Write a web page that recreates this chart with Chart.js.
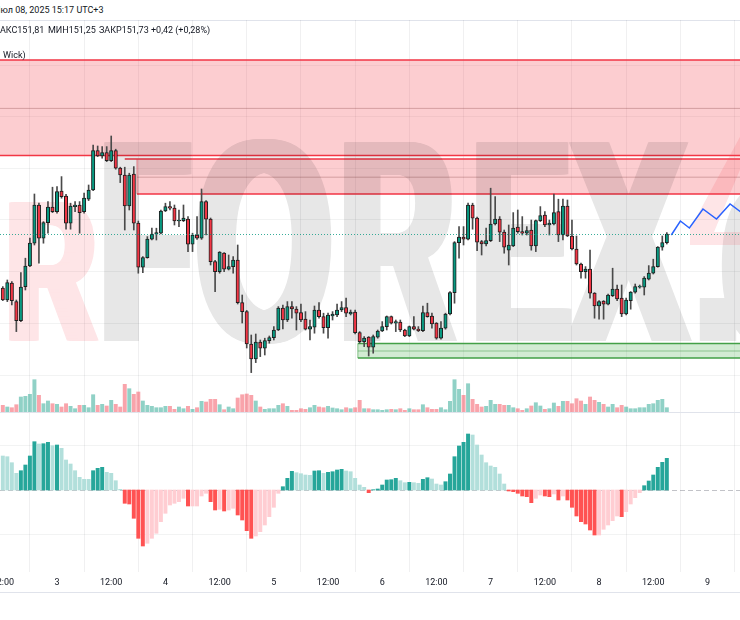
<!DOCTYPE html>
<html>
<head>
<meta charset="utf-8">
<script src="https://cdn.jsdelivr.net/npm/chart.js@4.4.1/dist/chart.umd.min.js"></script>
<style>
html, body { margin: 0; padding: 0; background: #fff; }
#wrap { position: relative; width: 740px; height: 620px; overflow: hidden; background: #fff;
        font-family: Roboto, "Noto Sans", sans-serif; color: #131722; }
canvas { position: absolute; left: 0; }
.txt { position: absolute; font-size: 9px; line-height: 11px; white-space: nowrap; }
.rule { position: absolute; left: 0; width: 740px; height: 1px; background: #e0e3eb; }
</style>
</head>
<body>
<div id="wrap">
  <div class="txt" style="top:5px;left:-6px">Июл 08, 2025 15:17 UTC+3</div>
  <div class="rule" style="top:20px"></div>
  <canvas id="priceChart" width="740" height="393" style="top:20px"></canvas>
  <div class="txt" style="top:25px;left:-8px">МАКС151,81</div>
  <div class="txt" style="top:25px;left:48px">МИН151,25</div>
  <div class="txt" style="top:25px;left:99px">ЗАКР151,73</div>
  <div class="txt" style="top:25px;left:151px">+0,42 (+0,28%)</div>
  <div class="txt" style="top:50px;left:3px">Wick)</div>
  <div class="rule" style="top:412px"></div>
  <canvas id="macdChart" width="740" height="207" style="top:413px"></canvas>
  <div class="rule" style="top:592px"></div>
</div>
<script>
// hourly candles, index 0 = day 2 12:00
const opens = [
151.459,151.400,151.484,151.392,151.297,151.467,151.570,151.684,151.875,151.709,
151.787,151.864,151.842,151.945,151.920,151.784,151.867,151.875,151.842,151.904,
151.950,152.147,152.120,152.137,152.097,152.147,152.059,152.025,151.870,152.030,
151.784,151.564,151.612,151.704,151.729,151.734,151.845,151.867,151.859,151.795,
151.797,151.804,151.679,151.725,151.709,151.892,151.804,151.592,151.542,151.634,
151.554,151.567,151.600,151.387,151.342,151.180,151.105,151.189,151.159,151.197,
151.212,151.250,151.359,151.300,151.367,151.354,151.337,151.304,151.254,151.264,
151.350,151.317,151.262,151.320,151.325,151.350,151.362,151.330,151.339,151.237,
151.192,151.214,151.164,151.214,151.245,151.267,151.317,151.284,151.289,151.250,
151.220,151.267,151.255,151.247,151.337,151.320,151.284,151.209,151.259,151.330,
151.437,151.687,151.714,151.704,151.875,151.809,151.692,151.680,151.697,151.780,
151.805,151.739,151.649,151.670,151.764,151.742,151.734,151.750,151.670,151.797,
151.825,151.775,151.780,151.842,151.725,151.870,151.720,151.655,151.580,151.542,
151.555,151.434,151.370,151.395,151.379,151.422,151.455,151.409,151.330,151.397,
151.439,151.464,151.464,151.504,151.534,151.567,151.664,151.687];
const highs = [
151.467,151.500,151.492,151.400,151.537,151.609,151.709,151.930,151.884,151.792,
151.892,151.964,151.967,152.017,151.928,151.884,151.892,151.892,151.934,151.975,
152.175,152.170,152.167,152.167,152.220,152.154,152.064,152.064,152.034,152.067,
151.795,151.617,151.717,151.759,151.759,151.850,151.884,151.892,151.875,151.850,
151.875,151.817,151.734,151.817,151.955,151.897,151.810,151.598,151.642,151.637,
151.625,151.617,151.675,151.425,151.348,151.225,151.230,151.200,151.209,151.220,
151.267,151.367,151.375,151.392,151.392,151.367,151.380,151.342,151.300,151.370,
151.387,151.334,151.334,151.342,151.380,151.392,151.409,151.350,151.350,151.242,
151.217,151.217,151.225,151.250,151.292,151.320,151.320,151.300,151.300,151.254,
151.270,151.317,151.267,151.370,151.384,151.334,151.287,151.292,151.334,151.442,
151.692,151.767,151.767,151.884,151.884,151.814,151.698,151.760,151.959,151.917,
151.817,151.750,151.775,151.837,151.850,151.817,151.767,151.800,151.800,151.867,
151.842,151.800,151.930,151.904,151.904,151.900,151.800,151.720,151.584,151.567,
151.649,151.437,151.397,151.397,151.430,151.559,151.475,151.475,151.409,151.442,
151.480,151.475,151.517,151.572,151.604,151.667,151.720,151.737];
const lows = [
151.397,151.392,151.375,151.242,151.292,151.450,151.567,151.675,151.584,151.684,
151.734,151.837,151.834,151.909,151.754,151.754,151.842,151.734,151.834,151.897,
151.947,152.117,152.109,152.092,152.092,152.054,151.987,151.750,151.850,151.750,
151.534,151.537,151.609,151.700,151.700,151.730,151.842,151.850,151.775,151.767,
151.792,151.642,151.642,151.703,151.703,151.725,151.575,151.442,151.534,151.542,
151.550,151.534,151.380,151.285,151.160,151.037,151.087,151.117,151.125,151.184,
151.200,151.247,151.255,151.292,151.309,151.250,151.292,151.250,151.200,151.234,
151.309,151.234,151.209,151.300,151.317,151.342,151.317,151.325,151.230,151.184,
151.167,151.120,151.134,151.209,151.242,151.250,151.280,151.242,151.242,151.217,
151.217,151.250,151.242,151.242,151.314,151.259,151.204,151.204,151.254,151.325,
151.384,151.609,151.675,151.700,151.754,151.647,151.625,151.670,151.692,151.775,
151.692,151.634,151.575,151.667,151.734,151.725,151.725,151.649,151.642,151.792,
151.767,151.725,151.775,151.692,151.700,151.717,151.650,151.575,151.509,151.509,
151.409,151.309,151.304,151.304,151.375,151.417,151.397,151.317,151.325,151.354,
151.434,151.459,151.425,151.500,151.530,151.564,151.649,151.680];
const closes = [
151.400,151.487,151.397,151.297,151.464,151.570,151.684,151.875,151.709,151.787,
151.864,151.842,151.942,151.917,151.784,151.870,151.875,151.837,151.909,151.950,
152.147,152.120,152.137,152.097,152.147,152.059,152.025,151.870,152.025,151.784,
151.564,151.612,151.705,151.729,151.737,151.845,151.867,151.859,151.795,151.800,
151.809,151.679,151.725,151.709,151.892,151.804,151.592,151.542,151.639,151.554,
151.567,151.600,151.387,151.342,151.180,151.105,151.189,151.159,151.197,151.212,
151.250,151.359,151.300,151.367,151.355,151.334,151.300,151.254,151.267,151.350,
151.317,151.262,151.325,151.329,151.350,151.362,151.334,151.339,151.237,151.192,
151.209,151.164,151.217,151.245,151.267,151.317,151.284,151.292,151.250,151.220,
151.267,151.254,151.247,151.337,151.317,151.280,151.209,151.259,151.330,151.437,
151.687,151.714,151.704,151.875,151.809,151.689,151.680,151.697,151.780,151.805,
151.739,151.664,151.675,151.759,151.742,151.734,151.747,151.670,151.797,151.822,
151.775,151.784,151.837,151.725,151.870,151.720,151.655,151.580,151.542,151.555,
151.434,151.370,151.392,151.379,151.425,151.455,151.405,151.330,151.400,151.439,
151.467,151.469,151.509,151.534,151.567,151.664,151.687,151.729];
const volumes = [
770,600,530,830,1600,1670,1870,3330,1770,930,
1200,930,870,600,930,670,430,770,770,530,
1830,770,870,700,1270,870,600,2870,2430,1870,
2100,1200,770,670,530,530,670,670,370,600,
430,670,370,530,1170,1100,1370,1370,830,330,
600,430,1500,1830,1900,1770,1200,600,370,430,
430,770,930,670,270,270,430,370,530,770,
600,530,670,500,430,330,530,430,530,1270,
430,430,330,330,270,330,370,330,430,270,
430,330,330,830,530,370,370,530,330,1170,
3330,2370,1770,2930,1370,870,600,670,1270,870,
870,770,770,530,430,270,430,700,1030,700,
370,430,1000,670,1170,1170,930,1430,1200,870,
1600,1270,1070,870,600,870,530,770,600,430,
430,530,530,870,930,1270,1370,530];
const macdHist = [
34.0,33.3,27.3,16.7,19.3,25.0,34.0,48.3,46.0,46.3,
47.7,44.3,45.0,41.7,30.0,26.0,19.3,12.7,10.7,10.7,
19.3,21.7,22.7,17.7,16.7,9.3,0.7,-13.3,-14.0,-28.3,
-48.3,-56.0,-53.3,-48.3,-43.3,-31.7,-23.3,-15.0,-13.3,-11.7,
-8.3,-16.0,-16.0,-16.0,-6.0,-3.3,-11.7,-20.0,-19.3,-21.0,
-20.0,-18.3,-25.0,-30.0,-40.7,-48.3,-46.0,-41.7,-35.0,-26.7,
-17.3,-3.3,3.3,11.7,18.7,17.3,16.3,15.0,14.7,19.0,
19.3,16.7,17.7,18.3,20.0,20.7,19.0,18.3,11.7,5.0,
2.7,-2.7,0.3,1.0,5.0,10.0,10.3,11.7,9.3,7.3,
7.7,7.3,6.7,10.7,12.3,11.0,6.0,5.0,8.3,16.0,
33.3,44.0,47.7,56.0,55.0,45.0,35.0,27.3,24.0,22.7,
16.0,6.0,-1.0,-1.7,-3.3,-6.0,-6.7,-12.7,-8.3,-5.0,
-6.0,-6.7,-4.0,-10.0,-6.0,-10.0,-17.3,-26.0,-31.7,-34.0,
-40.0,-45.0,-45.0,-39.3,-35.0,-30.7,-26.0,-26.7,-21.7,-14.0,
-7.7,-2.7,4.3,9.0,15.0,22.7,27.7,31.7];

// projected path (blue zigzag)
const projIdx = [148, 150, 152, 155, 158, 161, 164];
const projPrice = [151.725, 151.795, 151.760, 151.855, 151.805, 151.880, 151.830];

// zones: supply (red) x2, demand (green)
const zoneKind = ['supply', 'supply', 'demand'];
const zoneFrom = [-5, 29.7, 78.6];
const zoneLineFrom = [-5, 27, 78.6];
const zoneHigh = [152.600, 152.105, 151.182];
const zoneLow = [152.122, 151.930, 151.110];
const zoneMid = [152.358, 152.014, 151.145];

const tickIdx = [0, 12, 24, 36, 48, 60, 72, 84, 96, 108, 120, 132, 144, 156];
const tickLabels = ['12:00','3','12:00','4','12:00','5','12:00','6','12:00','7','12:00','8','12:00','9'];
const priceGrid = [152.575, 152.317, 152.059, 151.800, 151.542, 151.284, 151.025];
const histGrid = [-44, 44];

const UP = '#089981', DOWN = '#f23645';
const isUp = closes.map((c, i) => c >= opens[i]);
const xy = (arr) => arr.map((v, i) => ({ x: i, y: v }));

const histColors = macdHist.map((v, i) => {
    const prev = i > 0 ? macdHist[i - 1] : v;
    if (v >= 0) return prev < v ? '#26a69a' : '#b2dfdb';
    return v < prev ? '#ff5252' : '#ffcdd2';
});

function xAxis(showLabels) {
    return {
        type: 'linear', min: -0.62, max: 163.2, offset: false,
        grid: { color: 'rgba(42,46,57,0.07)', drawTicks: false },
        border: { display: false },
        ticks: {
            display: showLabels, autoSkip: false, maxRotation: 0, padding: 5,
            color: '#131722', font: { family: 'Roboto', size: 9 },
            callback: (v, i) => tickLabels[i]
        },
        afterBuildTicks: s => { s.ticks = tickIdx.map(v => ({ value: v })); },
        afterFit: s => { s.height = showLabels ? 21 : 0; s.paddingLeft = 0; s.paddingRight = 0; }
    };
}

function hiddenY(min, max, grid) {
    return {
        min: min, max: max,
        grid: { color: 'rgba(42,46,57,0.06)', drawTicks: false },
        border: { display: false },
        ticks: { display: false },
        afterBuildTicks: s => { s.ticks = grid.map(v => ({ value: v })); },
        afterFit: s => { s.width = 0; s.paddingTop = 0; s.paddingBottom = 0; }
    };
}

// heavy condensed watermark: letters drawn opaque off-screen, widened, then blended once
function markLayer(draw) {
    const c = document.createElement('canvas');
    c.width = 740; c.height = 393;
    draw(c.getContext('2d'));
    return c;
}
function heavyLetter(g, ch, px, base, size, sx, widen) {
    g.font = 'bold ' + size + 'px "Liberation Sans"';
    for (let d = 0; d <= widen; d += 1) {
        g.save(); g.translate(px + d, base); g.scale(sx, 1); g.fillText(ch, 0, 0); g.restore();
    }
}
const greyMark = markLayer(g => {
    g.fillStyle = '#000';
    [['F', 94.5, 0.5], ['O', 189.7, 0.6], ['R', 333.6, 0.54], ['E', 466.5, 0.5],
     ['X', 563.8, 0.6], ['.', 689, 0.55], ['c', 715.6, 0.55]].forEach(([ch, px, sx]) => {
        heavyLetter(g, ch, px, 321, 289, sx, 14);
    });
});
const pinkMark = markLayer(g => {
    g.fillStyle = '#f23645';
    heavyLetter(g, 'R', 1, 320, 200, 0.61, 12);
    g.beginPath();
    g.moveTo(690, 225); g.lineTo(690, 209); g.lineTo(742, 113); g.lineTo(742, 145);
    g.lineTo(714, 212); g.lineTo(742, 212); g.lineTo(742, 225); g.closePath();
    g.fill();
});

const zonesAndMark = {
    id: 'zonesAndMark',
    beforeDatasetsDraw(chart) {
        const { ctx, chartArea: a, scales: { x, y } } = chart;
        ctx.save();
        zoneKind.forEach((kind, k) => {
            const red = kind === 'supply';
            const x0 = Math.max(x.getPixelForValue(zoneFrom[k]), a.left);
            const xl = Math.max(x.getPixelForValue(zoneLineFrom[k]), a.left);
            const y0 = y.getPixelForValue(zoneHigh[k]);
            const y1 = y.getPixelForValue(zoneLow[k]);
            const ym = y.getPixelForValue(zoneMid[k]);
            ctx.fillStyle = red ? 'rgba(242,54,69,0.25)' : 'rgba(76,175,80,0.25)';
            ctx.fillRect(x0, y0, a.right - x0, y1 - y0);
            ctx.strokeStyle = red ? 'rgba(120,50,50,0.30)' : 'rgba(56,142,60,0.45)';
            ctx.lineWidth = 1;
            ctx.beginPath(); ctx.moveTo(x0, ym); ctx.lineTo(a.right, ym); ctx.stroke();
            ctx.strokeStyle = red ? '#f23645' : '#43a047';
            ctx.lineWidth = 1.5;
            ctx.beginPath();
            ctx.moveTo(xl, y0); ctx.lineTo(a.right, y0);
            ctx.moveTo(x0, y1); ctx.lineTo(a.right, y1);
            ctx.stroke();
            if (x0 > a.left) {
                ctx.lineWidth = 1;
                ctx.strokeStyle = red ? 'rgba(242,54,69,0.5)' : 'rgba(67,160,71,0.6)';
                ctx.beginPath(); ctx.moveTo(x0, y0); ctx.lineTo(x0, y1); ctx.stroke();
            }
        });
        ctx.globalAlpha = 0.095;
        ctx.drawImage(greyMark, 0, 0);
        ctx.globalAlpha = 0.13;
        ctx.drawImage(pinkMark, 0, 0);
        ctx.restore();
    },
    afterDatasetsDraw(chart) {
        const { ctx, chartArea: a, scales: { y } } = chart;
        const py = Math.round(y.getPixelForValue(closes[closes.length - 1])) + 0.5;
        ctx.save();
        ctx.strokeStyle = 'rgba(8,153,129,0.8)';
        ctx.lineWidth = 1;
        ctx.setLineDash([1, 2]);
        ctx.beginPath(); ctx.moveTo(a.left, py); ctx.lineTo(a.right, py); ctx.stroke();
        ctx.restore();
    }
};

new Chart(document.getElementById('priceChart'), {
    type: 'bar',
    data: {
        datasets: [
            {
                type: 'line', order: 1, yAxisID: 'y',
                data: projIdx.map((v, i) => ({ x: v, y: projPrice[i] })),
                borderColor: '#2962ff', borderWidth: 1.5, pointRadius: 0, tension: 0
            },
            {
                order: 2, yAxisID: 'y', grouped: false,
                data: opens.map((o, i) => ({ x: i, y: [o, closes[i]] })),
                backgroundColor: isUp.map(u => u ? UP : DOWN),
                borderColor: '#1e1e1e', borderWidth: 1, borderSkipped: false,
                barThickness: 3.4
            },
            {
                order: 3, yAxisID: 'y', grouped: false,
                data: lows.map((l, i) => ({ x: i, y: [l, highs[i]] })),
                backgroundColor: '#4a4a4a', barThickness: 1
            },
            {
                order: 4, yAxisID: 'yVol', grouped: false,
                data: xy(volumes),
                backgroundColor: isUp.map(u => u ? 'rgba(8,153,129,0.45)' : 'rgba(242,54,69,0.45)'),
                barThickness: 3.3
            }
        ]
    },
    options: {
        responsive: false, animation: false, events: [],
        layout: { padding: 0 },
        plugins: { legend: { display: false }, tooltip: { enabled: false } },
        scales: {
            x: xAxis(false),
            y: hiddenY(150.835, 152.80, priceGrid),
            yVol: { display: false, min: 0, max: 39300 }
        }
    },
    plugins: [zonesAndMark]
});

const zeroLine = {
    id: 'zeroLine',
    beforeDatasetsDraw(chart) {
        const { ctx, chartArea: a, scales: { y } } = chart;
        const py = Math.round(y.getPixelForValue(0)) + 0.5;
        ctx.save();
        ctx.strokeStyle = 'rgba(120,123,134,0.45)';
        ctx.lineWidth = 1;
        ctx.setLineDash([5, 3]);
        ctx.beginPath(); ctx.moveTo(a.left, py); ctx.lineTo(a.right, py); ctx.stroke();
        ctx.restore();
    }
};

new Chart(document.getElementById('macdChart'), {
    type: 'bar',
    data: {
        datasets: [{
            data: xy(macdHist),
            backgroundColor: histColors,
            barThickness: 3.3, grouped: false
        }]
    },
    options: {
        responsive: false, animation: false, events: [],
        layout: { padding: { left: 0, right: 0, top: 0, bottom: 27 } },
        plugins: { legend: { display: false }, tooltip: { enabled: false } },
        scales: {
            x: xAxis(true),
            y: hiddenY(-82, 77, histGrid)
        }
    },
    plugins: [zeroLine]
});
</script>
</body>
</html>
